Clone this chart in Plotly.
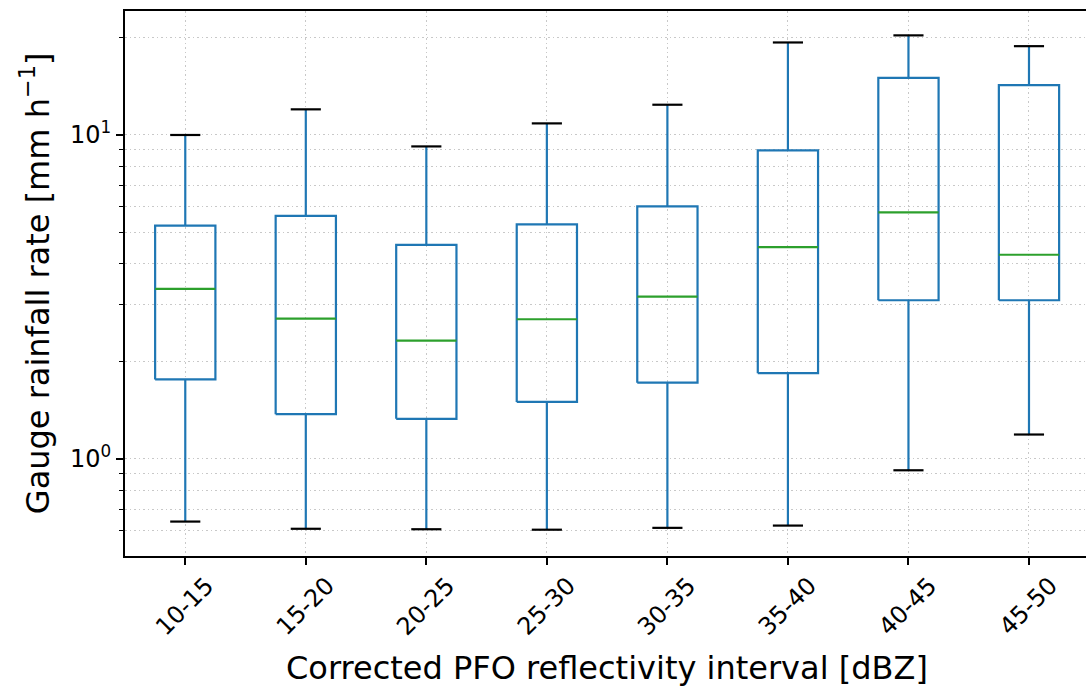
import plotly.graph_objects as go

categories = ['10-15', '15-20', '20-25', '25-30', '30-35', '35-40', '40-45', '45-50']
whisker_low = [0.641, 0.609, 0.607, 0.605, 0.613, 0.623, 0.923, 1.19]
q1 = [1.76, 1.375, 1.33, 1.50, 1.72, 1.84, 3.09, 3.09]
median = [3.35, 2.71, 2.32, 2.70, 3.17, 4.51, 5.77, 4.27]
q3 = [5.25, 5.63, 4.58, 5.30, 6.02, 8.97, 15.0, 14.25]
whisker_high = [10.0, 12.0, 9.22, 10.86, 12.4, 19.3, 20.3, 18.8]

y_major = [1, 10]
y_major_text = ['10<sup>0</sup>', '10<sup>1</sup>']
y_minor = [0.6, 0.7, 0.8, 0.9, 2, 3, 4, 5, 6, 7, 8, 9, 20]

BLUE = '#1f77b4'
GREEN = '#2ca02c'
FONT = 'DejaVu Sans'
GRID = '#c8c8c8'
GRID_DASH = '1.5px,3px'
half_box = 0.25
half_cap = 0.125

pos = list(range(1, len(categories) + 1))

box_x, box_y = [], []
wh_x, wh_y = [], []
cap_x, cap_y = [], []
med_x, med_y = [], []
for p, lo, a, m, b, hi in zip(pos, whisker_low, q1, median, q3, whisker_high):
    box_x += [p - half_box, p + half_box, p + half_box, p - half_box, p - half_box, None]
    box_y += [a, a, b, b, a, None]
    wh_x += [p, p, None, p, p, None]
    wh_y += [a, lo, None, b, hi, None]
    cap_x += [p - half_cap, p + half_cap, None, p - half_cap, p + half_cap, None]
    cap_y += [lo, lo, None, hi, hi, None]
    med_x += [p - half_box, p + half_box, None]
    med_y += [m, m, None]

fig = go.Figure()
fig.add_trace(go.Scatter(x=wh_x, y=wh_y, mode='lines', line=dict(color=BLUE, width=2.2), hoverinfo='skip'))
fig.add_trace(go.Scatter(x=box_x, y=box_y, mode='lines', line=dict(color=BLUE, width=2.2), hoverinfo='skip'))
fig.add_trace(go.Scatter(x=cap_x, y=cap_y, mode='lines', line=dict(color='black', width=2.2), hoverinfo='skip'))
fig.add_trace(go.Scatter(x=med_x, y=med_y, mode='lines', line=dict(color=GREEN, width=2.2), hoverinfo='skip'))

annotations = []
for p, c in zip(pos, categories):
    annotations.append(dict(x=p, xref='x', y=0, yref='paper', text=c, showarrow=False,
                            textangle=-45, xanchor='center', yanchor='top', yshift=-13,
                            font=dict(family=FONT, size=24, color='black')))
annotations.append(dict(x=4.5, xref='x', y=-0.2055, yref='paper',
                        text='Corrected PFO reflectivity interval [dBZ]', showarrow=False,
                        xanchor='center', yanchor='middle',
                        font=dict(family=FONT, size=32, color='black')))
annotations.append(dict(x=-0.094, xref='paper', y=0.5, yref='paper',
                        text='Gauge rainfall rate [mm h<sup>−1</sup>]', showarrow=False,
                        textangle=-90, xanchor='center', yanchor='middle',
                        font=dict(family=FONT, size=32, color='black')))

fig.update_layout(
    width=1086, height=693,
    margin=dict(l=125, r=0, t=11, b=137),
    paper_bgcolor='white', plot_bgcolor='white',
    showlegend=False,
    font=dict(family=FONT, size=24, color='black'),
    annotations=annotations,
    xaxis=dict(range=[0.5, 8.473], tickmode='array', tickvals=pos, showticklabels=False,
               showline=True, linecolor='black', linewidth=1.8, mirror=True,
               ticks='outside', ticklen=7, tickwidth=1.6, tickcolor='black',
               showgrid=True, gridcolor=GRID, griddash=GRID_DASH, gridwidth=1,
               zeroline=False, fixedrange=True),
    yaxis=dict(type='log', range=[-0.2994, 1.3827], tickmode='array', tickvals=y_major,
               ticktext=y_major_text, tickfont=dict(family=FONT, size=24, color='black'),
               showline=True, linecolor='black', linewidth=1.8, mirror=False,
               ticks='outside', ticklen=7, tickwidth=1.6, tickcolor='black',
               showgrid=True, gridcolor=GRID, griddash=GRID_DASH, gridwidth=1,
               zeroline=False, fixedrange=True,
               minor=dict(tickmode='array', tickvals=y_minor, ticks='outside', ticklen=4,
                          tickwidth=1.2, tickcolor='black', showgrid=True,
                          gridcolor=GRID, griddash=GRID_DASH, gridwidth=1)),
)

fig.write_html('out.html', config={'displayModeBar': False},
               post_script="document.body.style.margin='0px';")
